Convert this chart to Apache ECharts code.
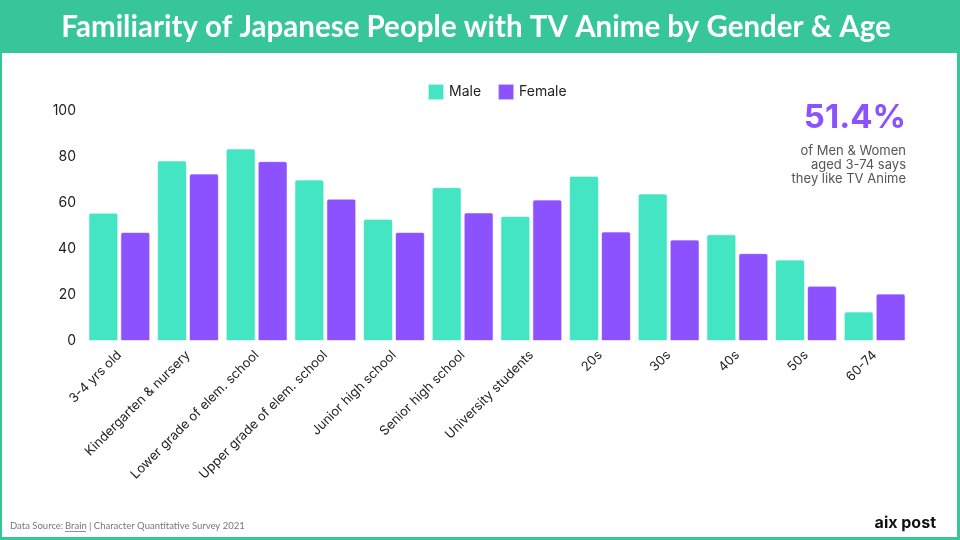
<!DOCTYPE html>
<html>
<head>
<meta charset="utf-8">
<script src="https://cdn.jsdelivr.net/npm/echarts@6/dist/echarts.min.js"></script>
<style>
html,body{margin:0;padding:0;background:#fff;}
#c{width:960px;height:540px;}
</style>
</head>
<body>
<div id="c"></div>
<script>
const categories = ["3-4 yrs old","Kindergarten & nursery","Lower grade of elem. school","Upper grade of elem. school","Junior high school","Senior high school","University students","20s","30s","40s","50s","60-74"];
const maleValues = [55.8, 78.5, 83.7, 70.2, 53.1, 66.9, 54.4, 71.8, 64.1, 46.4, 35.4, 12.8];
const femaleValues = [47.4, 72.8, 78.2, 61.9, 47.4, 55.9, 61.5, 47.6, 44.1, 38.2, 24.0, 20.6];
const yTicks = [0, 20, 40, 60, 80, 100];

const GREEN = '#37c697';
const MALE = '#43e5c2';
const FEMALE = '#8c52ff';
const FONT = 'Inter, "Noto Sans", sans-serif';

const chart = echarts.init(document.getElementById('c'), null, {renderer:'canvas'});
chart.setOption({
  backgroundColor: '#fff',
  animation: false,
  textStyle: {fontFamily: FONT},
  graphic: [
    {type:'rect', shape:{x:0,y:0,width:960,height:53}, style:{fill:GREEN}, z:0},
    {type:'rect', shape:{x:0,y:53,width:2,height:487}, style:{fill:GREEN}},
    {type:'rect', shape:{x:957,y:53,width:3,height:487}, style:{fill:GREEN}},
    {type:'rect', shape:{x:0,y:537,width:960,height:3}, style:{fill:GREEN}},
    {type:'text', x:476, y:27, style:{text:'Familiarity of Japanese People with TV Anime by Gender & Age', fill:'#fff', font:'bold 29.5px Lato, sans-serif', align:'center', verticalAlign:'middle'}},
    {type:'text', x:906, y:118, style:{text:'51.4%', fill:FEMALE, font:'bold 33px ' + FONT, align:'right', verticalAlign:'middle'}},
    {type:'text', x:906, y:165, style:{text:'of Men & Women\naged 3-74 says\nthey like TV Anime', fill:'#555', font:'13px ' + FONT, align:'right', verticalAlign:'middle', lineHeight:14}},
    {type:'text', x:10, y:526, style:{text:'Data Source:', fill:'#777', font:'9.5px Lato, sans-serif', verticalAlign:'middle'}},
    {type:'text', x:65, y:526, style:{text:'Brain', fill:'#777', font:'9.5px Lato, sans-serif', verticalAlign:'middle'}},
    {type:'rect', shape:{x:65,y:531,width:21,height:0.8}, style:{fill:'#777'}},
    {type:'text', x:89, y:526, style:{text:'| Character Quantitative Survey 2021', fill:'#777', font:'9.5px Lato, sans-serif', verticalAlign:'middle'}},
    {type:'text', x:936, y:523, style:{text:'aix post', fill:'#111', font:'bold 16px ' + FONT, align:'right', verticalAlign:'middle'}}
  ],
  legend: {
    top: 78, left: 422,
    itemWidth: 16, itemHeight: 16, itemGap: 16,
    icon: 'rect',
    textStyle: {fontSize: 14, color: '#222', fontFamily: FONT},
    data: ['Male','Female']
  },
  grid: {left: 85, right: 51, top: 111, bottom: 199, containLabel: false},
  xAxis: {
    type: 'category',
    data: categories,
    axisLine: {show:false},
    axisTick: {show:false},
    axisLabel: {rotate: 45, fontSize: 13, color: '#222', fontFamily: FONT, margin: 12, interval: 0}
  },
  yAxis: {
    type: 'value',
    min: yTicks[0], max: yTicks[yTicks.length-1], interval: 20,
    splitLine: {show:false},
    axisLine: {show:false},
    axisTick: {show:false},
    axisLabel: {fontSize: 14, color: '#222', fontFamily: FONT, margin: 9}
  },
  series: [
    {name:'Male', type:'bar', data: maleValues, barGap:'7%', barCategoryGap:'10%',
     itemStyle:{color: MALE, borderColor:'rgba(255,255,255,0.6)', borderWidth:1, borderRadius:[2,2,0,0]}},
    {name:'Female', type:'bar', data: femaleValues,
     itemStyle:{color: FEMALE, borderColor:'rgba(255,255,255,0.6)', borderWidth:1, borderRadius:[2,2,0,0]}}
  ]
});
</script>
</body>
</html>
